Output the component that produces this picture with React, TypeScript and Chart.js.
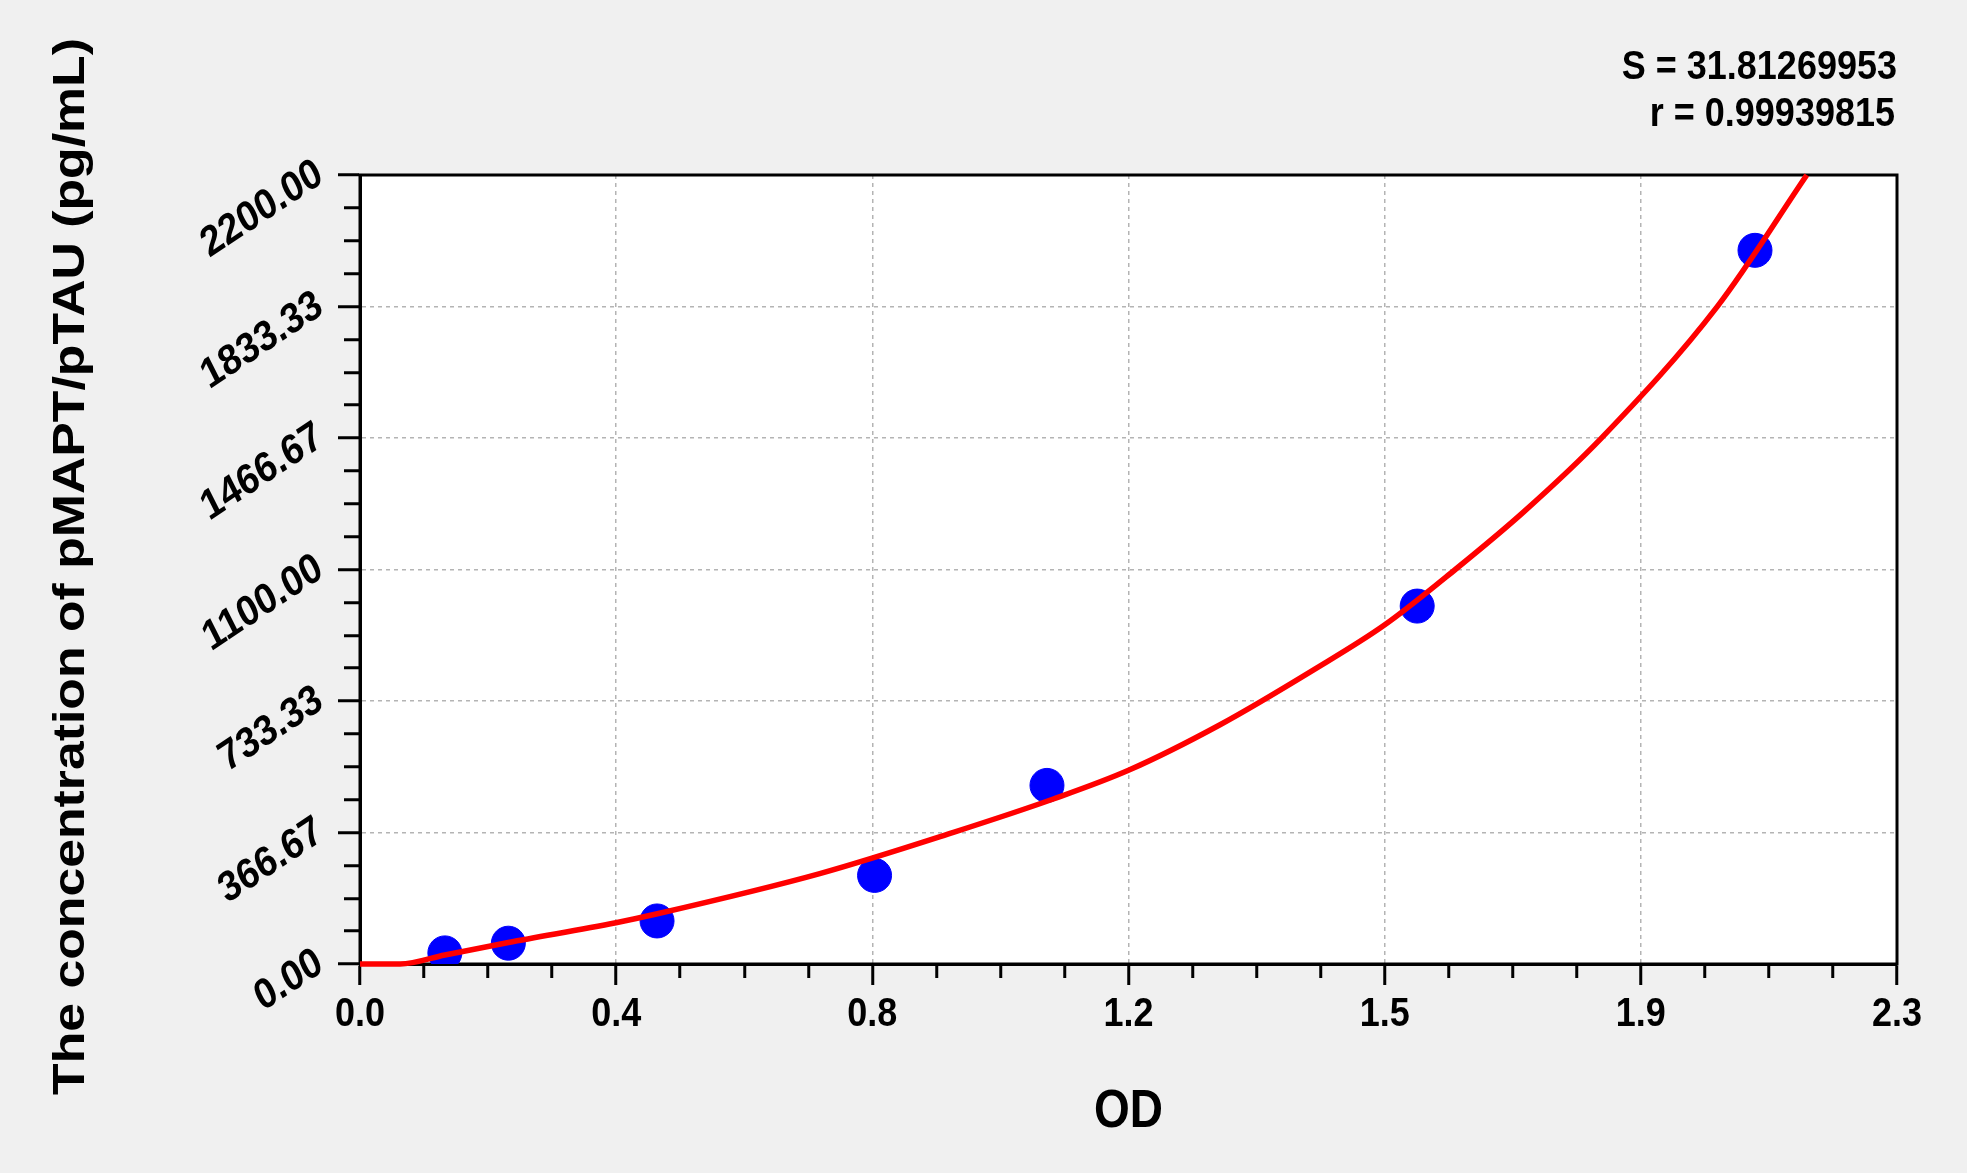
import React, { useEffect, useRef } from "react";
import { Chart, registerables, Plugin } from "chart.js";

Chart.register(...registerables);

// standards: OD and concentration (pg/mL)
const odValues = [0.127, 0.222, 0.4445, 0.77, 1.028, 1.582, 2.0875];
const concValues = [31, 58, 120, 247, 498, 998, 1990];

// fitted curve
const curveOd = [0, 0.06, 0.127, 0.222, 0.383, 0.445, 0.688, 0.888, 1.0375, 1.15, 1.287, 1.427, 1.533, 1.639, 1.741, 1.858, 2.031, 2.165];
const curveConc = [0, 0, 25, 60, 115, 140, 252, 367, 460, 540, 667, 820, 945, 1100, 1260, 1467, 1833, 2200];

const xTickLabels = ["0.0", "0.4", "0.8", "1.2", "1.5", "1.9", "2.3"];
const yTickLabels = ["0.00", "366.67", "733.33", "1100.00", "1466.67", "1833.33", "2200.00"];
const xMax = 2.3;
const yMax = 2200;
const minorPerMajor = 4;

const xTitle = "OD";
const yTitle = "The concentration of pMAPT/pTAU (pg/mL)";
const statsLines = ["S = 31.81269953", "r = 0.99939815"];

const FONT = "'Liberation Sans', Arial, sans-serif";
// the source picture is a little taller than wide, text included
const STRETCH = 1.15;

const makeTicks = (max: number, majors: number) => (scale: any) => {
  const n = majors * minorPerMajor;
  scale.ticks = Array.from({ length: n + 1 }, (_, i) => ({ value: (max * i) / n }));
};

const isMajor = (c: any) => c.index % minorPerMajor === 0;

const drawText = (
  ctx: CanvasRenderingContext2D,
  text: string,
  x: number,
  y: number,
  size: number,
  align: CanvasTextAlign,
  rotate = 0
) => {
  ctx.save();
  ctx.translate(x, y);
  ctx.scale(1, STRETCH);
  if (rotate) ctx.rotate(rotate);
  ctx.font = `bold ${size}px ${FONT}`;
  ctx.fillStyle = "#000";
  ctx.textAlign = align;
  ctx.textBaseline = "middle";
  ctx.fillText(text, 0, 0);
  ctx.restore();
};

const framePlugin: Plugin = {
  id: "frame",
  beforeDraw(chart) {
    const { ctx, chartArea: a } = chart;
    ctx.save();
    ctx.fillStyle = "#ffffff";
    ctx.fillRect(a.left, a.top, a.right - a.left, a.bottom - a.top);
    ctx.restore();
  },
  beforeDatasetsDraw(chart) {
    const { ctx, chartArea: a } = chart;
    ctx.save();
    ctx.strokeStyle = "#000";
    ctx.lineWidth = 3;
    ctx.strokeRect(a.left, a.top, a.right - a.left, a.bottom - a.top);
    ctx.restore();
  },
  afterDraw(chart) {
    const { ctx, chartArea: a } = chart;
    const xs = chart.scales.x;
    const ys = chart.scales.y;
    const xSteps = xTickLabels.length - 1;
    const ySteps = yTickLabels.length - 1;
    xTickLabels.forEach((t, i) => {
      drawText(ctx, t, xs.getPixelForValue((xMax * i) / xSteps), a.bottom + 51, 36, "center");
    });
    yTickLabels.forEach((t, i) => {
      drawText(ctx, t, a.left - 40, ys.getPixelForValue((yMax * i) / ySteps) - 4, 37, "right", -Math.PI / 6);
    });
    drawText(ctx, xTitle, (a.left + a.right) / 2, 1112, 46, "center");
    drawText(ctx, yTitle, 72, (a.top + a.bottom) / 2 - 3, 45, "center", -Math.PI / 2);
    drawText(ctx, statsLines[0], a.right, 68, 36, "right");
    drawText(ctx, statsLines[1], a.right - 2, 115, 36, "right");
  },
};

export default function App() {
  const chartRef = useRef<HTMLCanvasElement | null>(null);

  useEffect(() => {
    let chartInstance: Chart | null = null;
    if (chartRef.current) {
      const context = chartRef.current.getContext("2d");
      if (context) {
        chartInstance = new Chart(context, {
          type: "scatter",
          data: {
            datasets: [
              {
                label: "fit",
                data: curveOd.map((x, i) => ({ x, y: curveConc[i] })),
                showLine: true,
                borderColor: "#ff0000",
                borderWidth: 5.5,
                pointRadius: 0,
                cubicInterpolationMode: "monotone",
                clip: false,
              } as any,
              {
                label: "standards",
                data: odValues.map((x, i) => ({ x, y: concValues[i] })),
                backgroundColor: "#0000ff",
                borderColor: "#0000ff",
                pointRadius: 17,
                pointHoverRadius: 17,
              },
            ],
          },
          options: {
            animation: false,
            responsive: false,
            devicePixelRatio: 1,
            layout: { padding: { top: 175, right: 70, left: 0, bottom: 0 } },
            plugins: {
              legend: { display: false },
              tooltip: { enabled: false },
            },
            scales: {
              x: {
                type: "linear",
                min: 0,
                max: xMax,
                afterBuildTicks: makeTicks(xMax, xTickLabels.length - 1),
                afterFit: (scale: any) => {
                  scale.height = 209;
                },
                ticks: { display: false, autoSkip: false },
                grid: {
                  color: (c: any) => (isMajor(c) ? "#b4b4b4" : "rgba(0,0,0,0)"),
                  lineWidth: 1.5,
                  tickLength: 21,
                  tickWidth: 3,
                  tickColor: "#000",
                  tickBorderDash: (c: any) => (isMajor(c) ? [] : [12, 100]),
                },
                border: { color: "#000", width: 3, dash: [4, 4] },
              },
              y: {
                type: "linear",
                min: 0,
                max: yMax,
                afterBuildTicks: makeTicks(yMax, yTickLabels.length - 1),
                afterFit: (scale: any) => {
                  scale.width = 360;
                },
                ticks: { display: false, autoSkip: false },
                grid: {
                  color: (c: any) => (isMajor(c) ? "#b4b4b4" : "rgba(0,0,0,0)"),
                  lineWidth: 1.5,
                  tickLength: 22,
                  tickWidth: 3,
                  tickColor: "#000",
                  tickBorderDash: (c: any) => (isMajor(c) ? [] : [0.001, 6, 100]),
                },
                border: { color: "#000", width: 3, dash: [4, 4] },
              },
            },
          },
          plugins: [framePlugin],
        });
      }
    }
    return () => {
      if (chartInstance) {
        chartInstance.destroy();
      }
    };
  }, []);

  return (
    <div
      style={{
        position: "fixed",
        left: 0,
        top: 0,
        width: 1967,
        height: 1173,
        background: "#f0f0f0",
      }}
    >
      <canvas ref={chartRef} width={1967} height={1173} style={{ display: "block" }} />
    </div>
  );
}
